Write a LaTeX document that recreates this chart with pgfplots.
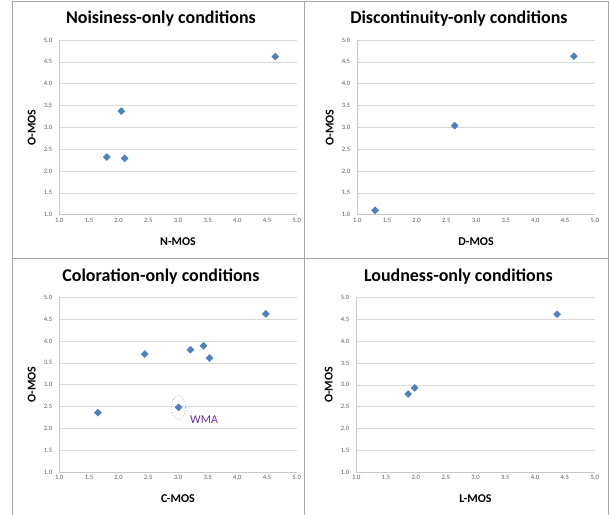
\documentclass[border=0pt]{standalone}
\usepackage{pgfplots}
\pgfplotsset{compat=1.18}
\usepackage{fontspec}
\setmainfont{Carlito}
\definecolor{ptblue}{HTML}{4F81BD}
\definecolor{gridgray}{HTML}{D9D9D9}
\definecolor{axgray}{HTML}{C8C8C8}
\definecolor{ticktext}{HTML}{595959}
\definecolor{wma}{HTML}{7030A0}
\definecolor{framegray}{HTML}{A6A6A6}
\pgfplotsset{
  panel/.style={
    scale only axis, width=237.4bp, height=174.7bp,
    xmin=1, xmax=5, ymin=1, ymax=5,
    xtick={1,1.5,...,5}, ytick={1,1.5,...,5},
    axis x line*=bottom, axis y line*=left,
    axis line style={axgray, line width=0.6bp},
    ymajorgrids, grid style={gridgray, line width=0.6bp},
    major tick length=0pt,
    tick label style={font=\fontsize{6.6}{7.5}\selectfont, text=ticktext, inner sep=0pt},
    xticklabel style={anchor=north, yshift=-3.5bp},
    yticklabel style={anchor=east, xshift=-7bp},
    /pgf/number format/.cd, fixed, fixed zerofill, precision=1, assume math mode=true, /pgfplots/.cd,
    title style={font=\fontsize{18}{21}\selectfont\bfseries, at={(0.428,1.12)}, anchor=center, yshift=-6pt},
    label style={font=\fontsize{12}{14}\selectfont\bfseries},
    xlabel style={at={(0.5,-0.153)}, anchor=center},
    ylabel style={at={(-0.116,0.5)}, anchor=center},
    clip=false,
  },
  pts/.style={only marks, mark=square*, mark size=2.5bp, mark options={fill=ptblue, draw=ptblue, rotate=45}},
}
\begin{document}
\begin{tikzpicture}
\path[use as bounding box] (0,0) rectangle (609bp,515bp);
\draw[framegray, line width=0.8bp] (12.5bp,0) -- (12.5bp,514bp) -- (608bp,514bp) -- (608bp,0);
\draw[framegray, line width=0.8bp] (304.5bp,0) -- (304.5bp,514bp);
\draw[framegray, line width=0.8bp] (12.5bp,257bp) -- (608bp,257bp);

\begin{axis}[panel, at={(59.3bp,300.3bp)}, anchor=south west,
  title={Noisiness-only conditions}, xlabel={N-MOS}, ylabel={O-MOS}]
\addplot[pts] coordinates {(1.80,2.32) (2.10,2.29) (2.045,3.37) (4.64,4.62)};
\end{axis}

\begin{axis}[panel, at={(357.3bp,300.3bp)}, anchor=south west,
  title={Discontinuity-only conditions}, xlabel={D-MOS}, ylabel={O-MOS}]
\addplot[pts] coordinates {(1.30,1.10) (2.64,3.04) (4.65,4.63)};
\end{axis}

\begin{axis}[panel, at={(59.3bp,43bp)}, anchor=south west,
  title={Coloration-only conditions}, xlabel={C-MOS}, ylabel={O-MOS}]
\addplot[pts] coordinates {(1.65,2.36) (2.44,3.70) (3.01,2.48) (3.21,3.80) (3.43,3.89) (3.53,3.61) (4.48,4.62)};
\draw[wma!55, dotted, line width=0.7bp] (axis cs:3.01,2.48) ellipse [x radius=7bp, y radius=12bp];
\node[text=wma, font=\fontsize{12}{14}\selectfont] at (axis cs:3.44,2.19) {WMA};
\end{axis}

\begin{axis}[panel, at={(356.3bp,43bp)}, anchor=south west, width=238.4bp, height=174.3bp,
  title={Loudness-only conditions}, xlabel={L-MOS}, ylabel={O-MOS}]
\addplot[pts] coordinates {(1.87,2.79) (1.98,2.93) (4.37,4.62)};
\end{axis}
\end{tikzpicture}
\end{document}
